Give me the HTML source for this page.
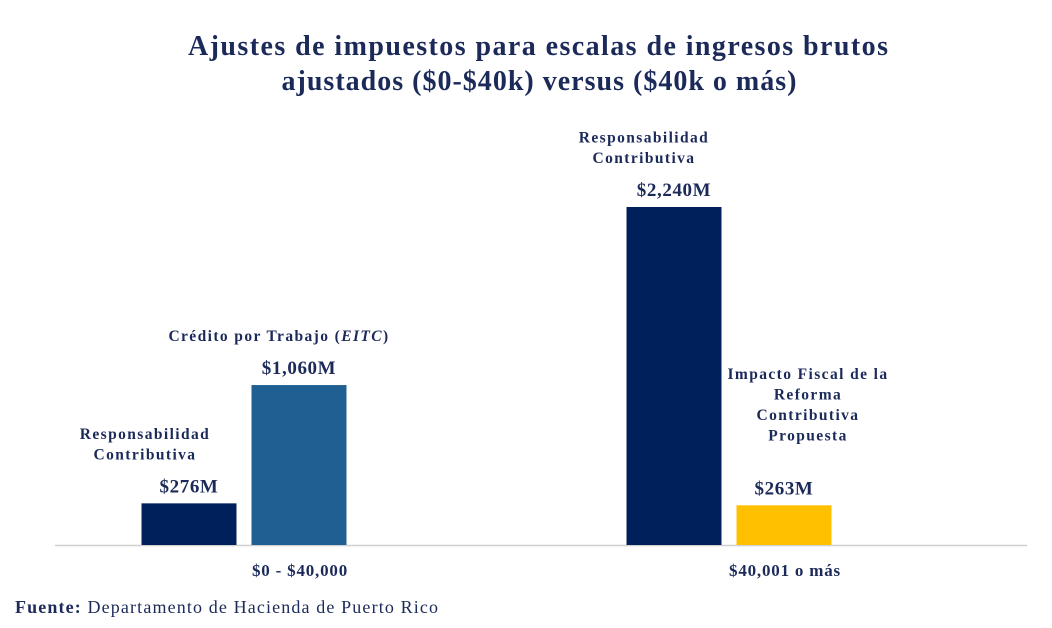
<!DOCTYPE html>
<html><head><meta charset="utf-8">
<style>
html,body{margin:0;padding:0;background:#fff;}
svg{display:block;font-family:"Liberation Serif",serif;}
</style></head>
<body>
<svg id="chart" width="1052" height="628" viewBox="0 0 1052 628" xmlns="http://www.w3.org/2000/svg">
<text x="538" y="55" text-anchor="middle" font-size="28" font-weight="bold" fill="#1c2a5a" textLength="700" lengthAdjust="spacing">Ajustes de impuestos para escalas de ingresos brutos</text>
<text x="539" y="90" text-anchor="middle" font-size="28" font-weight="bold" fill="#1c2a5a" textLength="515" lengthAdjust="spacing">ajustados ($0-$40k) versus ($40k o más)</text>
<line x1="55" y1="545.5" x2="1027" y2="545.5" stroke="#d0d0d0" stroke-width="1.5"/>
<g id="bars"></g>
<text x="15" y="613" font-size="18" fill="#1c2a5a" textLength="423" lengthAdjust="spacing"><tspan font-weight="bold">Fuente:</tspan> Departamento de Hacienda de Puerto Rico</text>
</svg>
<script>
const categories = ["$0 - $40,000", "$40,001 o más"];
const seriesValues = [276, 1060, 2240, 263];
const valueLabels = ["$276M", "$1,060M", "$2,240M", "$263M"];
const seriesNames = [["Responsabilidad","Contributiva"],["Crédito por Trabajo (EITC)"],["Responsabilidad","Contributiva"],["Impacto Fiscal de la","Reforma","Contributiva","Propuesta"]];
const barCategory = [0,0,1,1];
const barColors = ["#00205b","#1f5f91","#00205b","#ffc000"];

const NS="http://www.w3.org/2000/svg";
const g=document.getElementById('bars');
const baseY=545, scale=338/2240;
const y=v=>baseY-v*scale;
const groupCenter=[244,729], barW=95, gap=15;
function barX(i){const c=groupCenter[barCategory[i]];const k=i%2;return k===0?c-gap/2-barW:c+gap/2;}
function txt(x,yy,s,size,name,ls){const t=document.createElementNS(NS,'text');


t.setAttribute('x',x);t.setAttribute('y',yy);t.setAttribute('text-anchor','middle');t.setAttribute('font-size',size);t.setAttribute('font-weight','bold');t.setAttribute('fill','#1c2a5a');
if(ls)t.setAttribute('letter-spacing',ls);
t.textContent=s;g.appendChild(t);return t;}
const labelDx=[-44,-20,-30,24];
const labelGap=[44,44,44,65];
seriesValues.forEach((v,i)=>{
  const x=barX(i), top=y(v);
  const r=document.createElementNS(NS,'rect');
  
  
  r.setAttribute('x',x);r.setAttribute('y',top);r.setAttribute('width',barW);r.setAttribute('height',baseY-top);r.setAttribute('fill',barColors[i]);
  g.appendChild(r);
  const cx=x+barW/2;
  txt(cx,top-11,valueLabels[i],19,'value-label-'+(i+1),'0.6');
  const lines=seriesNames[i];
  const lx=cx+labelDx[i];
  const lh=20.5;
  const startY=top-labelGap[i]-(lines.length-1)*lh;
  lines.forEach((l,j)=>{
    const t=txt(lx,startY+j*lh,'',15.5,'series-label-'+(i+1),'1.4');
    if(l.indexOf('(EITC)')>=0){
      t.appendChild(document.createTextNode('Crédito por Trabajo ('));
      const ts=document.createElementNS(NS,'tspan');ts.setAttribute('font-style','italic');ts.textContent='EITC';t.appendChild(ts);
      t.appendChild(document.createTextNode(')'));
    } else t.textContent=l;
  });
});
categories.forEach((c,k)=>{txt(k===0?300:785,576,c,17,'x-tick-label-'+(k+1),'0.8');});
</script>
</body></html>
